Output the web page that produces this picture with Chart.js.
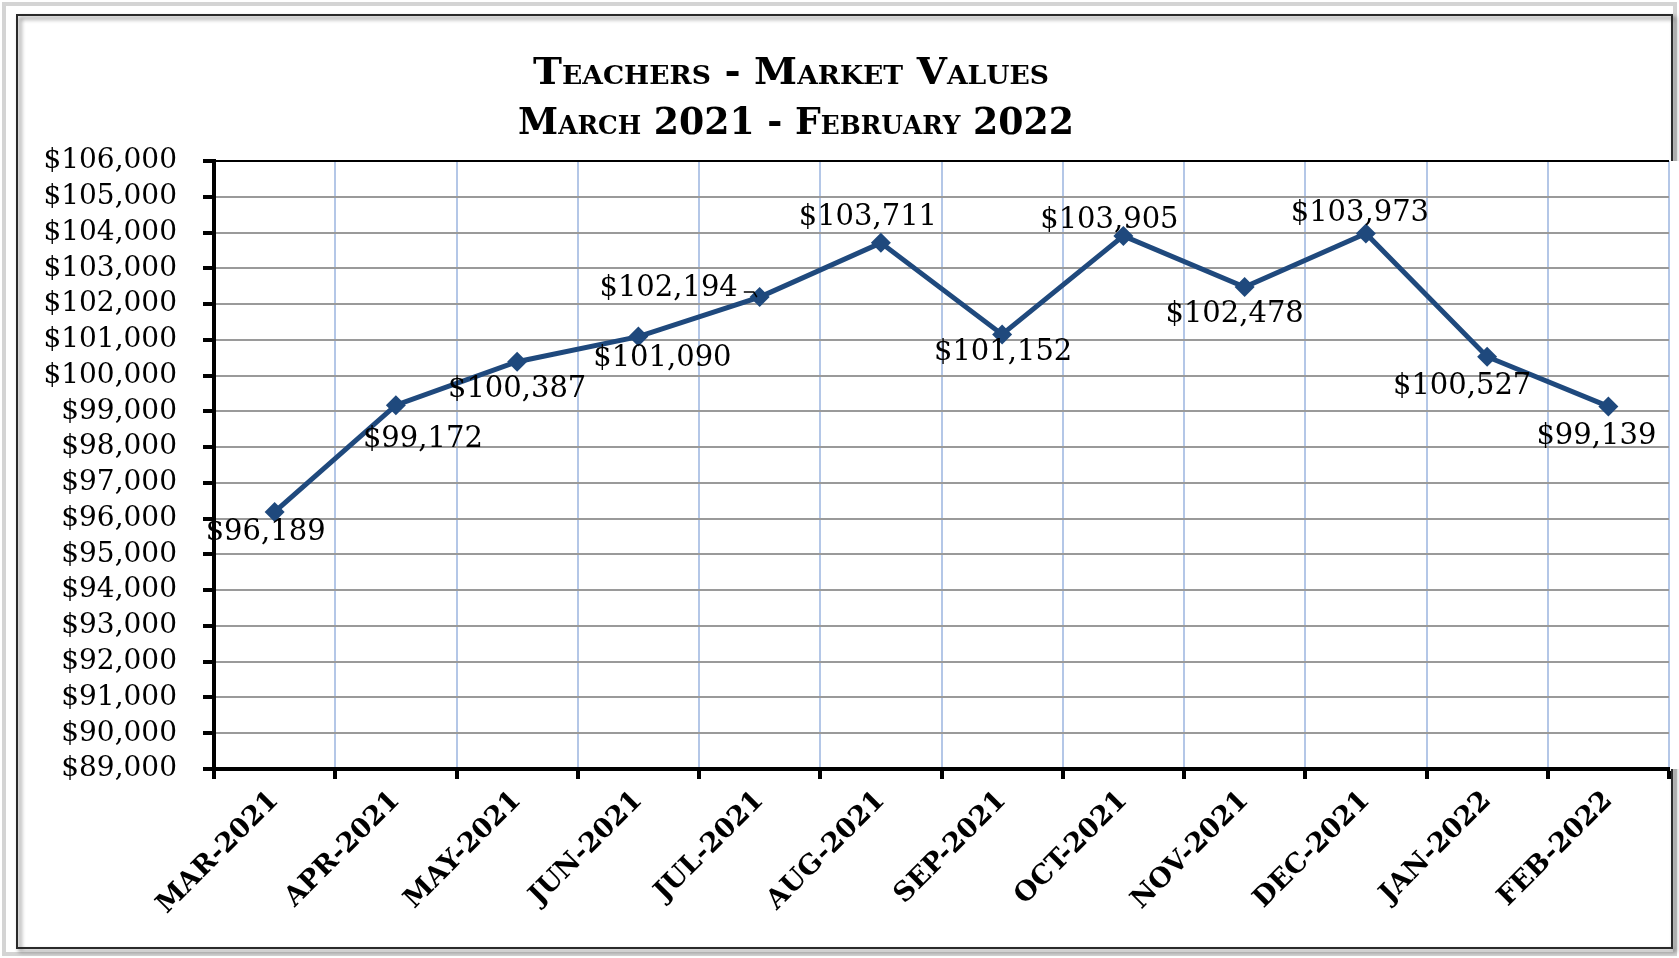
<!DOCTYPE html>
<html>
<head>
<meta charset="utf-8">
<title>Teachers - Market Values</title>
<script src="https://cdn.jsdelivr.net/npm/chart.js@4/dist/chart.umd.min.js"></script>
<style>
  html, body { margin: 0; padding: 0; background: #fff; }
  canvas { display: block; }
</style>
</head>
<body>
<canvas id="chart" width="1679" height="958"></canvas>
<script>
// data
const months = ['MAR-2021', 'APR-2021', 'MAY-2021', 'JUN-2021', 'JUL-2021', 'AUG-2021',
  'SEP-2021', 'OCT-2021', 'NOV-2021', 'DEC-2021', 'JAN-2022', 'FEB-2022'];
const marketValues = [96189, 99172, 100387, 101090, 102194, 103711,
  101152, 103905, 102478, 103973, 100527, 99139];
const titleLines = ['Teachers - Market Values', 'March 2021 - February 2022'];
const yMin = 89000;
const yMax = 106000;
const yStep = 1000;

// where each value label sits relative to its point (dx, dy), JUL one has a leader
const labelOffsets = [[-9, 21], [27, 34], [0, 28], [24, 22], [-91, -9], [-13, -25],
  [1, 18], [-14, -15], [-10, 28], [-6, -20], [-25, 30], [-12, 30]];

const lineColor = '#1F497D';
const money = v => '$' + v.toLocaleString('en-US');

// fake small caps: lowercase letters drawn as smaller capitals
function smallCaps(ctx, text, cx, baseline, big, small, targetW) {
  const parts = [];
  for (const ch of text) {
    const low = ch !== ch.toUpperCase();
    parts.push({ t: low ? ch.toUpperCase() : ch, f: low ? small : big });
  }
  let w = 0;
  parts.forEach(p => { ctx.font = p.f; p.w = ctx.measureText(p.t).width; w += p.w; });
  const sx = targetW / w;
  ctx.save();
  ctx.translate(cx - targetW / 2, baseline);
  ctx.scale(sx, 1);
  ctx.textAlign = 'left';
  ctx.textBaseline = 'alphabetic';
  ctx.fillStyle = '#000';
  let x = 0;
  parts.forEach(p => { ctx.font = p.f; ctx.fillText(p.t, x, 0); x += p.w; });
  ctx.restore();
}

const framePlugin = {
  id: 'frame',
  beforeDraw(chart) {
    const ctx = chart.ctx;
    const a = chart.chartArea;
    ctx.save();
    ctx.fillStyle = '#fff';
    ctx.fillRect(0, 0, chart.width, chart.height);
    // outer light border
    ctx.strokeStyle = '#d4d4d4';
    ctx.lineWidth = 4;
    ctx.strokeRect(4, 4, chart.width - 8, chart.height - 8);
    // dark frame with a soft shadow
    ctx.shadowColor = 'rgba(0,0,0,0.55)';
    ctx.shadowBlur = 4;
    ctx.shadowOffsetX = 3;
    ctx.shadowOffsetY = 3;
    ctx.strokeStyle = '#2a2a2a';
    ctx.lineWidth = 2;
    ctx.strokeRect(17, 15, 1655, 933);
    ctx.restore();
    // plot area is white and runs past the frame on the right
    ctx.save();
    ctx.fillStyle = '#fff';
    ctx.fillRect(a.left, a.top, chart.width - a.left, a.bottom - a.top);
    ctx.restore();
    // title
    smallCaps(ctx, titleLines[0], 791, 84, 'bold 38px "DejaVu Serif"', 'bold 26px "DejaVu Serif"', 516);
    smallCaps(ctx, titleLines[1], 796, 134, 'bold 38px "DejaVu Serif"', 'bold 26px "DejaVu Serif"', 556);
  }
};

const valueLabels = {
  id: 'valueLabels',
  afterDatasetsDraw(chart) {
    const ctx = chart.ctx;
    const pts = chart.getDatasetMeta(0).data;
    ctx.save();
    ctx.font = '29px "DejaVu Serif"';
    ctx.fillStyle = '#000';
    ctx.textAlign = 'center';
    ctx.textBaseline = 'middle';
    pts.forEach((p, i) => {
      const [dx, dy] = labelOffsets[i];
      const text = money(marketValues[i]);
      const lx = p.x + dx;
      const ly = p.y + dy;
      ctx.fillText(text, lx, ly);
      if (i === 4) {
        // little leader from label to point
        const right = lx + ctx.measureText(text).width / 2;
        ctx.strokeStyle = '#000';
        ctx.lineWidth = 1.5;
        ctx.beginPath();
        ctx.moveTo(right + 6, ly + 4);
        ctx.lineTo(right + 16, ly + 4);
        ctx.lineTo(right + 19, ly + 9);
        ctx.stroke();
      }
    });
    ctx.restore();
  }
};

new Chart(document.getElementById('chart'), {
  type: 'line',
  data: {
    labels: months,
    datasets: [{
      label: 'Market Value',
      data: marketValues,
      borderColor: lineColor,
      backgroundColor: lineColor,
      borderWidth: 5,
      tension: 0,
      pointStyle: 'rectRot',
      pointRadius: 10,
      pointBorderWidth: 0,
      pointBackgroundColor: lineColor
    }]
  },
  options: {
    responsive: false,
    devicePixelRatio: 1,
    animation: false,
    layout: { padding: { left: 0, top: 161, right: 0, bottom: 0 } },
    plugins: {
      legend: { display: false },
      tooltip: { enabled: false }
    },
    scales: {
      x: {
        offset: true,
        grid: {
          offset: true,
          color: '#b4c7e7',
          lineWidth: 2,
          tickColor: '#000',
          tickWidth: 4,
          tickLength: 10
        },
        border: { color: '#000', width: 4 },
        ticks: {
          autoSkip: false,
          minRotation: 45,
          maxRotation: 45,
          padding: 6,
          color: '#000',
          font: { family: '"DejaVu Serif"', size: 27, weight: 'bold' }
        },
        afterFit(scale) {
          scale.height = 189;
          scale.paddingLeft = 0;
          scale.paddingRight = 0;
        }
      },
      y: {
        min: yMin,
        max: yMax,
        grid: {
          color: c => (c.tick && c.tick.value === yMax ? '#000' : '#9a9a9a'),
          lineWidth: 2,
          tickColor: '#000',
          tickWidth: 4,
          tickLength: 11
        },
        border: { color: '#000', width: 4 },
        ticks: {
          autoSkip: false,
          stepSize: yStep,
          padding: 26,
          color: '#000',
          font: { family: '"DejaVu Serif"', size: 28 },
          callback: v => money(v)
        },
        afterFit(scale) {
          scale.width = 214;
          scale.paddingTop = 0;
          scale.paddingBottom = 0;
        }
      }
    }
  },
  plugins: [framePlugin, valueLabels]
});
</script>
</body>
</html>
